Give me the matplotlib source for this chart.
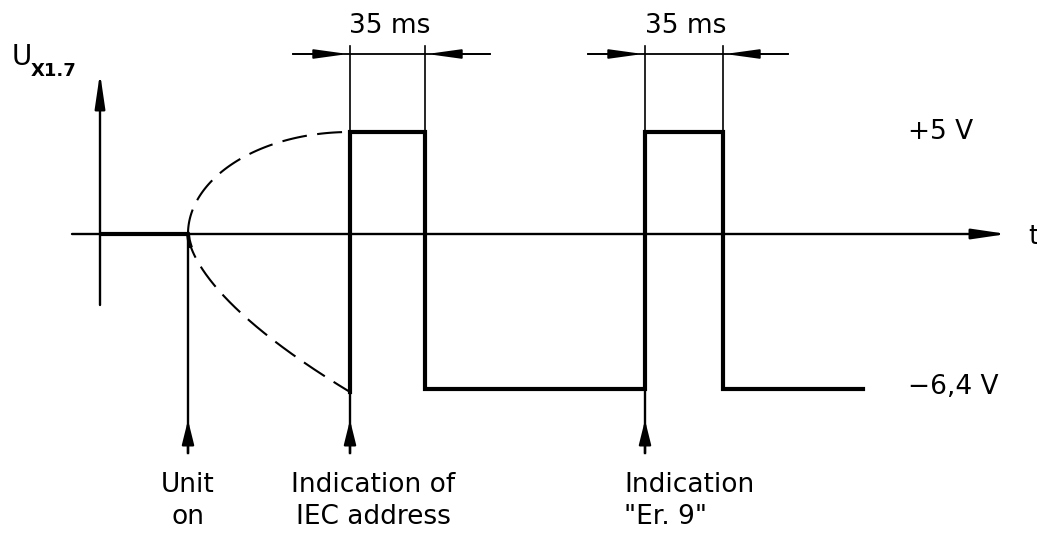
import numpy as np
import matplotlib
matplotlib.use("Agg")
import matplotlib.pyplot as plt

# drawing units: t along the time axis, y = height above the 0 V line
t_axis_start = 72
t_axis_end = 1007
t_yaxis = 100
t_unit_on = 188          # "Unit on"
t_pulse1 = [350, 425]    # IEC address pulse
t_pulse2 = [645, 723]    # "Er. 9" pulse
t_trace_end = 863

level_high = 102     # +5 V
level_low = -155     # -6,4 V
yaxis_top = 161
yaxis_bottom = -71
dim_y = 180          # 35 ms dimension line
ext_top = 188
mark_bottom = -219   # bottom of the event marker lines
mark_tip = -186

level_labels = ["+5 V", "\u22126,4 V"]
dim_label = "35 ms"
event_labels = ["Unit\non", "Indication of\nIEC address", "Indication\n\"Er. 9\""]

thin = 1.7
thick = 3.0
fs = 19

fig = plt.figure(figsize=(10.37, 5.35), dpi=100)
ax = fig.add_axes([0, 0, 1, 1])
ax.set_xlim(0, 1037)
ax.set_ylim(-301, 234)
ax.axis("off")

def arrow(x0, y0, x1, y1, hl=1.5, hw=0.22, lw=thin):
    ax.annotate("", xy=(x1, y1), xytext=(x0, y0),
                arrowprops=dict(arrowstyle="-|>,head_length=%g,head_width=%g" % (hl, hw),
                                lw=lw, color="black", mutation_scale=14,
                                shrinkA=0, shrinkB=0))

# axes
arrow(t_axis_start, 0, t_axis_end, 0)
arrow(t_yaxis, yaxis_bottom, t_yaxis, yaxis_top)

# signal trace
ax.plot([t_yaxis, t_unit_on], [0, 0], color="black", lw=thick, solid_capstyle="butt")
tx = [t_pulse1[0], t_pulse1[0], t_pulse1[1], t_pulse1[1],
      t_pulse2[0], t_pulse2[0], t_pulse2[1], t_pulse2[1], t_trace_end]
ty = [level_low - 3, level_high, level_high, level_low,
      level_low, level_high, level_high, level_low, level_low]
ax.plot(tx, ty, color="black", lw=thick, solid_joinstyle="miter")

# dashed start-up envelopes
span = t_pulse1[0] - t_unit_on
th = np.linspace(0, np.pi / 2, 120)
ax.plot(t_pulse1[0] - span * np.cos(th), level_high * np.sin(th),
        color="black", lw=1.5, dashes=(12, 5), dash_capstyle="butt")
s = np.linspace(0, 1, 200)
low_x = t_unit_on + span * s
low_y = (level_low - 3) * s ** 0.62
ax.plot(low_x, low_y, color="black", lw=1.5, dashes=(12, 5), dash_capstyle="butt")
ax.plot(low_x[:4], low_y[:4], color="black", lw=2.8)

# event markers
for t0, y0 in [(t_unit_on, 0), (t_pulse1[0], level_low), (t_pulse2[0], level_low)]:
    ax.plot([t0, t0], [y0, mark_bottom], color="black", lw=thin)
    arrow(t0, mark_bottom, t0, mark_tip, hl=1.05, hw=0.26)

# 35 ms dimensions
for p in [t_pulse1, t_pulse2]:
    for t0 in p:
        ax.plot([t0, t0], [level_high, ext_top], color="black", lw=1.2)
    ax.plot([p[0] - 57, p[1] + 65], [dim_y, dim_y], color="black", lw=1.3)
    arrow(p[0] - 57, dim_y, p[0] - 2, dim_y, hl=1.45, hw=0.2, lw=1.3)
    arrow(p[1] + 65, dim_y, p[1] + 2, dim_y, hl=1.45, hw=0.2, lw=1.3)
    ax.text((p[0] + p[1]) / 2 + 2, dim_y + 28, dim_label, fontsize=fs,
            ha="center", va="center")

# level labels
ax.text(908, level_high, level_labels[0], fontsize=fs, ha="left", va="center")
ax.text(908, level_low + 2, level_labels[1], fontsize=fs, ha="left", va="center")
ax.text(1033, -3, "t", fontsize=fs, ha="center", va="center")

# y-axis label
ax.text(12, 177, "U", fontsize=fs + 1, ha="left", va="center")
ax.text(31, 163, "X1.7", fontsize=13, fontweight="bold", ha="left", va="center")

# event labels
ax.text(t_unit_on, -267, event_labels[0], fontsize=fs, ha="center", va="center",
        linespacing=1.25, multialignment="center")
ax.text(373, -267, event_labels[1], fontsize=fs, ha="center", va="center",
        linespacing=1.25, multialignment="center")
ax.text(624, -267, event_labels[2], fontsize=fs, ha="left", va="center",
        linespacing=1.25, multialignment="left")

fig.savefig("out.png", dpi=100)
